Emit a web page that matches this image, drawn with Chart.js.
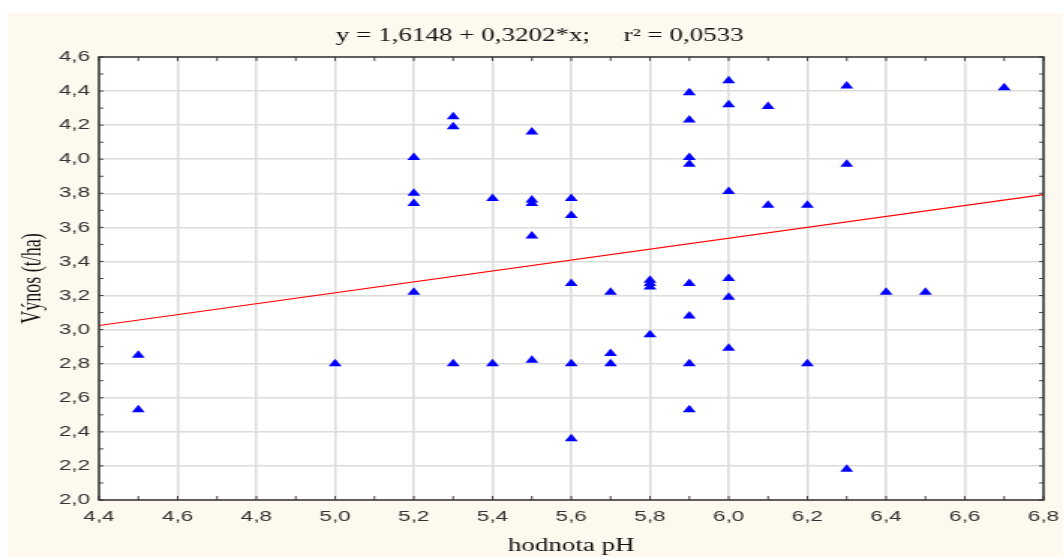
<!DOCTYPE html>
<html lang="cs">
<head>
<meta charset="UTF-8" />
<title>Výnos vs. hodnota pH</title>
<style>
  html, body { margin: 0; padding: 0; background: #fff; }
</style>
</head>
<body>
<!-- reference image is stretched horizontally, so the canvas is too -->
<canvas id="chart" width="709" height="557" style="display:block;width:1063px;height:557px"></canvas>
<script src="https://cdn.jsdelivr.net/npm/chart.js"></script>
<script>
// pH of each plot and its yield (t/ha)
const phValues = [
  4.5, 4.5,
  5.0,
  5.2, 5.2, 5.2, 5.2,
  5.3, 5.3, 5.3,
  5.4, 5.4,
  5.5, 5.5, 5.5, 5.5, 5.5,
  5.6, 5.6, 5.6, 5.6, 5.6,
  5.7, 5.7, 5.7,
  5.8, 5.8, 5.8, 5.8,
  5.9, 5.9, 5.9, 5.9, 5.9, 5.9, 5.9, 5.9,
  6.0, 6.0, 6.0, 6.0, 6.0, 6.0,
  6.1, 6.1,
  6.2, 6.2,
  6.3, 6.3, 6.3,
  6.4,
  6.5,
  6.7
];
const yieldValues = [
  2.85, 2.53,
  2.80,
  4.01, 3.80, 3.74, 3.22,
  4.25, 4.19, 2.80,
  3.77, 2.80,
  4.16, 3.76, 3.74, 3.55, 2.82,
  3.77, 3.67, 3.27, 2.80, 2.36,
  3.22, 2.86, 2.80,
  3.29, 3.27, 3.25, 2.97,
  4.39, 4.23, 4.01, 3.97, 3.27, 3.08, 2.80, 2.53,
  4.46, 4.32, 3.81, 3.30, 3.19, 2.89,
  4.31, 3.73,
  3.73, 2.80,
  4.43, 3.97, 2.18,
  3.22,
  3.22,
  4.42
];
// regression line end points
const fitX = [4.4, 6.8];
const fitY = [3.024, 3.792];

const xTicks = [4.4, 4.6, 4.8, 5.0, 5.2, 5.4, 5.6, 5.8, 6.0, 6.2, 6.4, 6.6, 6.8];
const yTicks = [2.0, 2.2, 2.4, 2.6, 2.8, 3.0, 3.2, 3.4, 3.6, 3.8, 4.0, 4.2, 4.4, 4.6];

const titleText = 'y = 1,6148 + 0,3202*x;     r\u00B2 = 0,0533';
const xTitle = 'hodnota pH';
const yTitle = 'Výnos (t/ha)';

const fmt = v => Number(v).toFixed(1).replace('.', ',');

const frame = {
  id: 'frame',
  beforeDraw(chart) {
    const { ctx, width, height, chartArea: a } = chart;
    ctx.save();
    ctx.fillStyle = '#ffffff';
    ctx.fillRect(0, 0, width, height);
    ctx.fillStyle = '#fef9ee';
    ctx.fillRect(5, 13, width - 5, height - 13);
    ctx.fillStyle = '#ffffff';
    ctx.fillRect(a.left, a.top, a.right - a.left, a.bottom - a.top);
    ctx.restore();
  },
  afterDraw(chart) {
    const { ctx, chartArea: a } = chart;
    const xs = chart.scales.x, ys = chart.scales.y;
    ctx.save();
    // small inward ticks every 0.1 on all four sides
    ctx.strokeStyle = '#444';
    ctx.lineWidth = 1;
    ctx.beginPath();
    for (let i = 0; i <= 24; i++) {
      const px = xs.getPixelForValue(4.4 + i * 0.1);
      ctx.moveTo(px, a.bottom); ctx.lineTo(px, a.bottom - 4);
      ctx.moveTo(px, a.top); ctx.lineTo(px, a.top + 4);
    }
    for (let i = 0; i <= 26; i++) {
      const py = ys.getPixelForValue(2 + i * 0.1);
      ctx.moveTo(a.left, py); ctx.lineTo(a.left + 3, py);
      ctx.moveTo(a.right, py); ctx.lineTo(a.right - 3, py);
    }
    ctx.stroke();
    ctx.strokeStyle = '#333';
    ctx.lineWidth = 1.5;
    ctx.strokeRect(a.left, a.top, a.right - a.left, a.bottom - a.top);
    // title above the plot
    ctx.fillStyle = '#111';
    ctx.font = '18px "Liberation Serif", "Times New Roman", serif';
    ctx.textAlign = 'center';
    ctx.textBaseline = 'middle';
    ctx.fillText(titleText, 360, 36);
    ctx.restore();
  }
};

const tickFont = { family: '"Liberation Sans", Arial, sans-serif', size: 15 };
const titleFont = { family: '"Liberation Serif", "Times New Roman", serif', size: 18 };

new Chart(document.getElementById('chart'), {
  type: 'scatter',
  data: {
    datasets: [
      {
        label: 'Výnos',
        data: phValues.map((x, i) => ({ x: x, y: yieldValues[i] })),
        pointStyle: 'triangle',
        pointRadius: 5,
        backgroundColor: '#0000ff',
        borderColor: '#0000ff',
        borderWidth: 0
      },
      {
        label: 'fit',
        data: fitX.map((x, i) => ({ x: x, y: fitY[i] })),
        showLine: true,
        pointRadius: 0,
        borderColor: '#ff0000',
        borderWidth: 1.2,
        fill: false
      }
    ]
  },
  options: {
    responsive: false,
    animation: false,
    layout: { padding: { left: 5, top: 57, right: 13, bottom: 0 } },
    plugins: {
      legend: { display: false },
      tooltip: { enabled: false },
      title: { display: false }
    },
    scales: {
      x: {
        type: 'linear',
        min: 4.4,
        max: 6.8,
        afterBuildTicks: s => { s.ticks = xTicks.map(v => ({ value: v })); },
        afterFit: s => { s.height = 57; s.paddingLeft = 0; s.paddingRight = 0; },
        grid: { color: '#dcdcdc', lineWidth: 1.5, drawTicks: false },
        border: { display: false },
        ticks: { callback: fmt, font: tickFont, color: '#333', padding: 8, maxRotation: 0, autoSkip: false },
        title: { display: true, text: xTitle, font: titleFont, color: '#111', padding: { top: 0, bottom: 0 } }
      },
      y: {
        type: 'linear',
        min: 2.0,
        max: 4.6,
        afterBuildTicks: s => { s.ticks = yTicks.map(v => ({ value: v })); },
        afterFit: s => { s.width = 61; s.paddingTop = 0; s.paddingBottom = 0; },
        grid: { color: '#dcdcdc', lineWidth: 1.5, drawTicks: false },
        border: { display: false },
        ticks: { callback: fmt, font: tickFont, color: '#333', padding: 6, autoSkip: false },
        title: { display: true, text: yTitle, font: titleFont, color: '#111', padding: { top: 6, bottom: 0 } }
      }
    }
  },
  plugins: [frame]
});
</script>
</body>
</html>
